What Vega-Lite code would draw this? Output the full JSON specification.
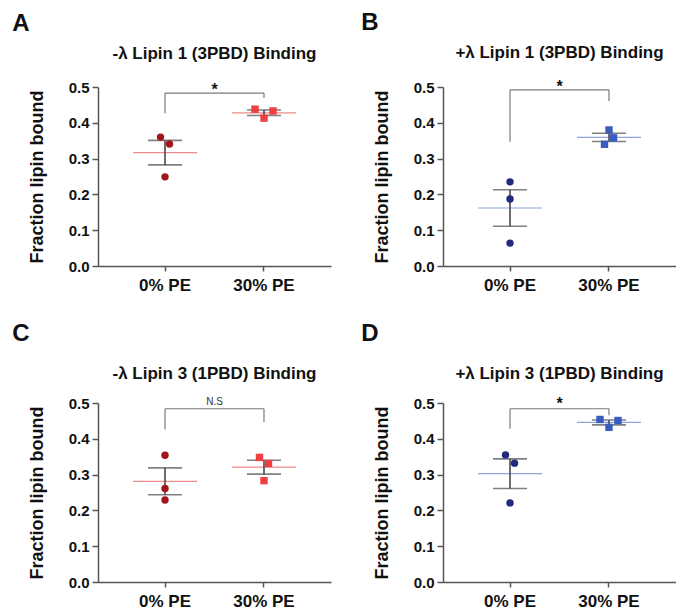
{
  "$schema": "https://vega.github.io/schema/vega-lite/v6.json",
  "background": "white",
  "padding": {"left": 12, "top": 10, "right": 0, "bottom": 0},
  "datasets": {
    "pts": [
      {"panel": "A", "pe": "0% PE", "rep": "L1", "v": 0.360},
      {"panel": "A", "pe": "0% PE", "rep": "R1", "v": 0.341},
      {"panel": "A", "pe": "0% PE", "rep": "C", "v": 0.249},
      {"panel": "A", "pe": "30% PE", "rep": "L2", "v": 0.438},
      {"panel": "A", "pe": "30% PE", "rep": "C", "v": 0.413},
      {"panel": "A", "pe": "30% PE", "rep": "R2", "v": 0.433},
      {"panel": "B", "pe": "0% PE", "rep": "C", "v": 0.235},
      {"panel": "B", "pe": "0% PE", "rep": "C", "v": 0.187},
      {"panel": "B", "pe": "0% PE", "rep": "C", "v": 0.064},
      {"panel": "B", "pe": "30% PE", "rep": "C", "v": 0.380},
      {"panel": "B", "pe": "30% PE", "rep": "R1", "v": 0.358},
      {"panel": "B", "pe": "30% PE", "rep": "L1", "v": 0.340},
      {"panel": "C", "pe": "0% PE", "rep": "C", "v": 0.354},
      {"panel": "C", "pe": "0% PE", "rep": "C", "v": 0.261},
      {"panel": "C", "pe": "0% PE", "rep": "C", "v": 0.229},
      {"panel": "C", "pe": "30% PE", "rep": "L1", "v": 0.348},
      {"panel": "C", "pe": "30% PE", "rep": "R1", "v": 0.331},
      {"panel": "C", "pe": "30% PE", "rep": "C", "v": 0.283},
      {"panel": "D", "pe": "0% PE", "rep": "L1", "v": 0.355},
      {"panel": "D", "pe": "0% PE", "rep": "R1", "v": 0.332},
      {"panel": "D", "pe": "0% PE", "rep": "C", "v": 0.221},
      {"panel": "D", "pe": "30% PE", "rep": "L2", "v": 0.454},
      {"panel": "D", "pe": "30% PE", "rep": "C", "v": 0.432},
      {"panel": "D", "pe": "30% PE", "rep": "R2", "v": 0.451}
    ],
    "brk": [
      {"panel": "A", "top": 0.483, "left": 0.427, "right": 0.469, "label": "*"},
      {"panel": "B", "top": 0.492, "left": 0.347, "right": 0.461, "label": "*"},
      {"panel": "C", "top": 0.484, "left": 0.426, "right": 0.447, "label": "N.S"},
      {"panel": "D", "top": 0.484, "left": 0.428, "right": 0.466, "label": "*"}
    ]
  },
  "config": {
    "font": "Liberation Sans",
    "view": {"stroke": null},
    "axis": {
      "domainColor": "#555555", "domainWidth": 1.5, "tickColor": "#555555", "tickWidth": 1.5,
      "labelFont": "Liberation Sans", "labelFontWeight": "bold", "labelColor": "#111111",
      "titleFont": "Liberation Sans", "titleFontWeight": "bold", "titleColor": "#111111",
      "grid": false
    },
    "axisX": {"labelFontSize": 17, "tickSize": 5, "labelPadding": 6, "labelAngle": 0, "title": null},
    "axisY": {"labelFontSize": 15, "tickSize": 6, "labelPadding": 3, "titleFontSize": 18, "titlePadding": 22},
    "title": {"font": "Liberation Sans", "fontWeight": "bold", "color": "#111111"},
    "concat": {"spacing": 30}
  },
  "spacing": 28,
  "vconcat": [
    {
      "hconcat": [
        {
          "title": {"text": "A", "anchor": "start", "fontSize": 24, "dx": -16, "offset": 9},
          "vconcat": [
            {
              "title": {"text": "-λ Lipin 1 (3PBD) Binding", "fontSize": 17, "offset": 17},
              "width": 233, "height": 179,
              "layer": [
                {"data": {"name": "brk"}, "transform": [{"filter": "datum.panel == 'A'"}], "mark": {"type": "rule", "color": "#7a7a7a", "strokeWidth": 1.2},
                 "encoding": {"x": {"datum": "0% PE", "type": "nominal", "scale": {"domain": ["0% PE", "30% PE"], "paddingInner": 0, "paddingOuter": 0.177}}, "x2": {"datum": "30% PE"}, "y": {"field": "top", "type": "quantitative", "scale": {"domain": [0, 0.5], "nice": false}, "axis": {"values": [0, 0.1, 0.2, 0.3, 0.4, 0.5], "format": ".1f"}, "title": "Fraction lipin bound"}}},
                {"data": {"name": "brk"}, "transform": [{"filter": "datum.panel == 'A'"}], "mark": {"type": "rule", "color": "#7a7a7a", "strokeWidth": 1.2},
                 "encoding": {"x": {"datum": "0% PE", "type": "nominal"}, "y": {"field": "top", "type": "quantitative", "axis": {"values": [0, 0.1, 0.2, 0.3, 0.4, 0.5], "format": ".1f"}, "title": "Fraction lipin bound"}, "y2": {"field": "left"}}},
                {"data": {"name": "brk"}, "transform": [{"filter": "datum.panel == 'A'"}], "mark": {"type": "rule", "color": "#7a7a7a", "strokeWidth": 1.2},
                 "encoding": {"x": {"datum": "30% PE", "type": "nominal"}, "y": {"field": "top", "type": "quantitative", "axis": {"values": [0, 0.1, 0.2, 0.3, 0.4, 0.5], "format": ".1f"}, "title": "Fraction lipin bound"}, "y2": {"field": "right"}}},
                {"data": {"name": "brk"}, "transform": [{"filter": "datum.panel == 'A'"}], "mark": {"type": "text", "fontSize": 16, "fontWeight": "bold", "color": "#111111", "dx": 49.5, "dy": 2, "baseline": "alphabetic"},
                 "encoding": {"x": {"datum": "0% PE", "type": "nominal"}, "y": {"field": "top", "type": "quantitative", "axis": {"values": [0, 0.1, 0.2, 0.3, 0.4, 0.5], "format": ".1f"}, "title": "Fraction lipin bound"}, "text": {"field": "label"}}},
                {"data": {"name": "pts"}, "transform": [{"filter": "datum.panel == 'A'"}], "mark": {"type": "tick", "size": 64, "thickness": 1.2, "color": "#f08c8c"},
                 "encoding": {"x": {"field": "pe", "type": "nominal"}, "y": {"aggregate": "mean", "field": "v", "type": "quantitative", "axis": {"values": [0, 0.1, 0.2, 0.3, 0.4, 0.5], "format": ".1f"}, "title": "Fraction lipin bound"}}},
                {"data": {"name": "pts"}, "transform": [{"filter": "datum.panel == 'A'"}], "mark": {"type": "errorbar", "extent": "stderr", "color": "#4a4a4a", "ticks": {"size": 34, "thickness": 1.6, "color": "#4a4a4a"}, "rule": {"strokeWidth": 1.6}},
                 "encoding": {"x": {"field": "pe", "type": "nominal"}, "y": {"field": "v", "type": "quantitative", "axis": {"values": [0, 0.1, 0.2, 0.3, 0.4, 0.5], "format": ".1f"}, "title": "Fraction lipin bound"}}},
                {"data": {"name": "pts"}, "transform": [{"filter": "datum.panel == 'A'"}], "mark": {"type": "point", "filled": true, "opacity": 1},
                 "encoding": {"x": {"field": "pe", "type": "nominal"}, "xOffset": {"field": "rep", "type": "nominal", "scale": {"type": "point", "domain": ["L2", "L1", "C", "R1", "R2"], "range": [40.5, 58.5], "padding": 0}},
                   "y": {"field": "v", "type": "quantitative", "axis": {"values": [0, 0.1, 0.2, 0.3, 0.4, 0.5], "format": ".1f"}, "title": "Fraction lipin bound"},
                   "shape": {"field": "pe", "type": "nominal", "scale": {"domain": ["0% PE", "30% PE"], "range": ["circle", "square"]}, "legend": null},
                   "size": {"value": 55},
                   "color": {"condition": {"test": "datum.pe == '0% PE'", "value": "#a0161c"}, "value": "#ee3f42"}}}
              ]
            }
          ]
        },
        {
          "title": {"text": "B", "anchor": "start", "fontSize": 24, "dx": -12, "offset": 9},
          "vconcat": [
            {
              "title": {"text": "+λ Lipin 1 (3PBD) Binding", "fontSize": 17, "offset": 17},
              "width": 233, "height": 179,
              "layer": [
                {"data": {"name": "brk"}, "transform": [{"filter": "datum.panel == 'B'"}], "mark": {"type": "rule", "color": "#7a7a7a", "strokeWidth": 1.2},
                 "encoding": {"x": {"datum": "0% PE", "type": "nominal", "scale": {"domain": ["0% PE", "30% PE"], "paddingInner": 0, "paddingOuter": 0.177}}, "x2": {"datum": "30% PE"}, "y": {"field": "top", "type": "quantitative", "scale": {"domain": [0, 0.5], "nice": false}, "axis": {"values": [0, 0.1, 0.2, 0.3, 0.4, 0.5], "format": ".1f"}, "title": "Fraction lipin bound"}}},
                {"data": {"name": "brk"}, "transform": [{"filter": "datum.panel == 'B'"}], "mark": {"type": "rule", "color": "#7a7a7a", "strokeWidth": 1.2},
                 "encoding": {"x": {"datum": "0% PE", "type": "nominal"}, "y": {"field": "top", "type": "quantitative", "axis": {"values": [0, 0.1, 0.2, 0.3, 0.4, 0.5], "format": ".1f"}, "title": "Fraction lipin bound"}, "y2": {"field": "left"}}},
                {"data": {"name": "brk"}, "transform": [{"filter": "datum.panel == 'B'"}], "mark": {"type": "rule", "color": "#7a7a7a", "strokeWidth": 1.2},
                 "encoding": {"x": {"datum": "30% PE", "type": "nominal"}, "y": {"field": "top", "type": "quantitative", "axis": {"values": [0, 0.1, 0.2, 0.3, 0.4, 0.5], "format": ".1f"}, "title": "Fraction lipin bound"}, "y2": {"field": "right"}}},
                {"data": {"name": "brk"}, "transform": [{"filter": "datum.panel == 'B'"}], "mark": {"type": "text", "fontSize": 16, "fontWeight": "bold", "color": "#111111", "dx": 49.5, "dy": 2, "baseline": "alphabetic"},
                 "encoding": {"x": {"datum": "0% PE", "type": "nominal"}, "y": {"field": "top", "type": "quantitative", "axis": {"values": [0, 0.1, 0.2, 0.3, 0.4, 0.5], "format": ".1f"}, "title": "Fraction lipin bound"}, "text": {"field": "label"}}},
                {"data": {"name": "pts"}, "transform": [{"filter": "datum.panel == 'B'"}], "mark": {"type": "tick", "size": 64, "thickness": 1.2, "color": "#8ea4e6"},
                 "encoding": {"x": {"field": "pe", "type": "nominal"}, "y": {"aggregate": "mean", "field": "v", "type": "quantitative", "axis": {"values": [0, 0.1, 0.2, 0.3, 0.4, 0.5], "format": ".1f"}, "title": "Fraction lipin bound"}}},
                {"data": {"name": "pts"}, "transform": [{"filter": "datum.panel == 'B'"}], "mark": {"type": "errorbar", "extent": "stderr", "color": "#4a4a4a", "ticks": {"size": 34, "thickness": 1.6, "color": "#4a4a4a"}, "rule": {"strokeWidth": 1.6}},
                 "encoding": {"x": {"field": "pe", "type": "nominal"}, "y": {"field": "v", "type": "quantitative", "axis": {"values": [0, 0.1, 0.2, 0.3, 0.4, 0.5], "format": ".1f"}, "title": "Fraction lipin bound"}}},
                {"data": {"name": "pts"}, "transform": [{"filter": "datum.panel == 'B'"}], "mark": {"type": "point", "filled": true, "opacity": 1},
                 "encoding": {"x": {"field": "pe", "type": "nominal"}, "xOffset": {"field": "rep", "type": "nominal", "scale": {"type": "point", "domain": ["L2", "L1", "C", "R1", "R2"], "range": [40.5, 58.5], "padding": 0}},
                   "y": {"field": "v", "type": "quantitative", "axis": {"values": [0, 0.1, 0.2, 0.3, 0.4, 0.5], "format": ".1f"}, "title": "Fraction lipin bound"},
                   "shape": {"field": "pe", "type": "nominal", "scale": {"domain": ["0% PE", "30% PE"], "range": ["circle", "square"]}, "legend": null},
                   "size": {"value": 55},
                   "color": {"condition": {"test": "datum.pe == '0% PE'", "value": "#222a7e"}, "value": "#3a5cc0"}}}
              ]
            }
          ]
        }
      ]
    },
    {
      "hconcat": [
        {
          "title": {"text": "C", "anchor": "start", "fontSize": 24, "dx": -16, "offset": 19},
          "vconcat": [
            {
              "title": {"text": "-λ Lipin 3 (1PBD) Binding", "fontSize": 17, "offset": 13},
              "width": 233, "height": 179,
              "layer": [
                {"data": {"name": "brk"}, "transform": [{"filter": "datum.panel == 'C'"}], "mark": {"type": "rule", "color": "#7a7a7a", "strokeWidth": 1.2},
                 "encoding": {"x": {"datum": "0% PE", "type": "nominal", "scale": {"domain": ["0% PE", "30% PE"], "paddingInner": 0, "paddingOuter": 0.177}}, "x2": {"datum": "30% PE"}, "y": {"field": "top", "type": "quantitative", "scale": {"domain": [0, 0.5], "nice": false}, "axis": {"values": [0, 0.1, 0.2, 0.3, 0.4, 0.5], "format": ".1f"}, "title": "Fraction lipin bound"}}},
                {"data": {"name": "brk"}, "transform": [{"filter": "datum.panel == 'C'"}], "mark": {"type": "rule", "color": "#7a7a7a", "strokeWidth": 1.2},
                 "encoding": {"x": {"datum": "0% PE", "type": "nominal"}, "y": {"field": "top", "type": "quantitative", "axis": {"values": [0, 0.1, 0.2, 0.3, 0.4, 0.5], "format": ".1f"}, "title": "Fraction lipin bound"}, "y2": {"field": "left"}}},
                {"data": {"name": "brk"}, "transform": [{"filter": "datum.panel == 'C'"}], "mark": {"type": "rule", "color": "#7a7a7a", "strokeWidth": 1.2},
                 "encoding": {"x": {"datum": "30% PE", "type": "nominal"}, "y": {"field": "top", "type": "quantitative", "axis": {"values": [0, 0.1, 0.2, 0.3, 0.4, 0.5], "format": ".1f"}, "title": "Fraction lipin bound"}, "y2": {"field": "right"}}},
                {"data": {"name": "brk"}, "transform": [{"filter": "datum.panel == 'C'"}], "mark": {"type": "text", "fontSize": 10, "color": "#333333", "dx": 49.5, "dy": -4, "baseline": "alphabetic"},
                 "encoding": {"x": {"datum": "0% PE", "type": "nominal"}, "y": {"field": "top", "type": "quantitative", "axis": {"values": [0, 0.1, 0.2, 0.3, 0.4, 0.5], "format": ".1f"}, "title": "Fraction lipin bound"}, "text": {"field": "label"}}},
                {"data": {"name": "pts"}, "transform": [{"filter": "datum.panel == 'C'"}], "mark": {"type": "tick", "size": 64, "thickness": 1.2, "color": "#f08c8c"},
                 "encoding": {"x": {"field": "pe", "type": "nominal"}, "y": {"aggregate": "mean", "field": "v", "type": "quantitative", "axis": {"values": [0, 0.1, 0.2, 0.3, 0.4, 0.5], "format": ".1f"}, "title": "Fraction lipin bound"}}},
                {"data": {"name": "pts"}, "transform": [{"filter": "datum.panel == 'C'"}], "mark": {"type": "errorbar", "extent": "stderr", "color": "#4a4a4a", "ticks": {"size": 34, "thickness": 1.6, "color": "#4a4a4a"}, "rule": {"strokeWidth": 1.6}},
                 "encoding": {"x": {"field": "pe", "type": "nominal"}, "y": {"field": "v", "type": "quantitative", "axis": {"values": [0, 0.1, 0.2, 0.3, 0.4, 0.5], "format": ".1f"}, "title": "Fraction lipin bound"}}},
                {"data": {"name": "pts"}, "transform": [{"filter": "datum.panel == 'C'"}], "mark": {"type": "point", "filled": true, "opacity": 1},
                 "encoding": {"x": {"field": "pe", "type": "nominal"}, "xOffset": {"field": "rep", "type": "nominal", "scale": {"type": "point", "domain": ["L2", "L1", "C", "R1", "R2"], "range": [40.5, 58.5], "padding": 0}},
                   "y": {"field": "v", "type": "quantitative", "axis": {"values": [0, 0.1, 0.2, 0.3, 0.4, 0.5], "format": ".1f"}, "title": "Fraction lipin bound"},
                   "shape": {"field": "pe", "type": "nominal", "scale": {"domain": ["0% PE", "30% PE"], "range": ["circle", "square"]}, "legend": null},
                   "size": {"value": 55},
                   "color": {"condition": {"test": "datum.pe == '0% PE'", "value": "#a0161c"}, "value": "#ee3f42"}}}
              ]
            }
          ]
        },
        {
          "title": {"text": "D", "anchor": "start", "fontSize": 24, "dx": -12, "offset": 19},
          "vconcat": [
            {
              "title": {"text": "+λ Lipin 3 (1PBD) Binding", "fontSize": 17, "offset": 13},
              "width": 233, "height": 179,
              "layer": [
                {"data": {"name": "brk"}, "transform": [{"filter": "datum.panel == 'D'"}], "mark": {"type": "rule", "color": "#7a7a7a", "strokeWidth": 1.2},
                 "encoding": {"x": {"datum": "0% PE", "type": "nominal", "scale": {"domain": ["0% PE", "30% PE"], "paddingInner": 0, "paddingOuter": 0.177}}, "x2": {"datum": "30% PE"}, "y": {"field": "top", "type": "quantitative", "scale": {"domain": [0, 0.5], "nice": false}, "axis": {"values": [0, 0.1, 0.2, 0.3, 0.4, 0.5], "format": ".1f"}, "title": "Fraction lipin bound"}}},
                {"data": {"name": "brk"}, "transform": [{"filter": "datum.panel == 'D'"}], "mark": {"type": "rule", "color": "#7a7a7a", "strokeWidth": 1.2},
                 "encoding": {"x": {"datum": "0% PE", "type": "nominal"}, "y": {"field": "top", "type": "quantitative", "axis": {"values": [0, 0.1, 0.2, 0.3, 0.4, 0.5], "format": ".1f"}, "title": "Fraction lipin bound"}, "y2": {"field": "left"}}},
                {"data": {"name": "brk"}, "transform": [{"filter": "datum.panel == 'D'"}], "mark": {"type": "rule", "color": "#7a7a7a", "strokeWidth": 1.2},
                 "encoding": {"x": {"datum": "30% PE", "type": "nominal"}, "y": {"field": "top", "type": "quantitative", "axis": {"values": [0, 0.1, 0.2, 0.3, 0.4, 0.5], "format": ".1f"}, "title": "Fraction lipin bound"}, "y2": {"field": "right"}}},
                {"data": {"name": "brk"}, "transform": [{"filter": "datum.panel == 'D'"}], "mark": {"type": "text", "fontSize": 16, "fontWeight": "bold", "color": "#111111", "dx": 49.5, "dy": 0, "baseline": "alphabetic"},
                 "encoding": {"x": {"datum": "0% PE", "type": "nominal"}, "y": {"field": "top", "type": "quantitative", "axis": {"values": [0, 0.1, 0.2, 0.3, 0.4, 0.5], "format": ".1f"}, "title": "Fraction lipin bound"}, "text": {"field": "label"}}},
                {"data": {"name": "pts"}, "transform": [{"filter": "datum.panel == 'D'"}], "mark": {"type": "tick", "size": 64, "thickness": 1.2, "color": "#8ea4e6"},
                 "encoding": {"x": {"field": "pe", "type": "nominal"}, "y": {"aggregate": "mean", "field": "v", "type": "quantitative", "axis": {"values": [0, 0.1, 0.2, 0.3, 0.4, 0.5], "format": ".1f"}, "title": "Fraction lipin bound"}}},
                {"data": {"name": "pts"}, "transform": [{"filter": "datum.panel == 'D'"}], "mark": {"type": "errorbar", "extent": "stderr", "color": "#4a4a4a", "ticks": {"size": 34, "thickness": 1.6, "color": "#4a4a4a"}, "rule": {"strokeWidth": 1.6}},
                 "encoding": {"x": {"field": "pe", "type": "nominal"}, "y": {"field": "v", "type": "quantitative", "axis": {"values": [0, 0.1, 0.2, 0.3, 0.4, 0.5], "format": ".1f"}, "title": "Fraction lipin bound"}}},
                {"data": {"name": "pts"}, "transform": [{"filter": "datum.panel == 'D'"}], "mark": {"type": "point", "filled": true, "opacity": 1},
                 "encoding": {"x": {"field": "pe", "type": "nominal"}, "xOffset": {"field": "rep", "type": "nominal", "scale": {"type": "point", "domain": ["L2", "L1", "C", "R1", "R2"], "range": [40.5, 58.5], "padding": 0}},
                   "y": {"field": "v", "type": "quantitative", "axis": {"values": [0, 0.1, 0.2, 0.3, 0.4, 0.5], "format": ".1f"}, "title": "Fraction lipin bound"},
                   "shape": {"field": "pe", "type": "nominal", "scale": {"domain": ["0% PE", "30% PE"], "range": ["circle", "square"]}, "legend": null},
                   "size": {"value": 55},
                   "color": {"condition": {"test": "datum.pe == '0% PE'", "value": "#222a7e"}, "value": "#3a5cc0"}}}
              ]
            }
          ]
        }
      ]
    }
  ]
}
